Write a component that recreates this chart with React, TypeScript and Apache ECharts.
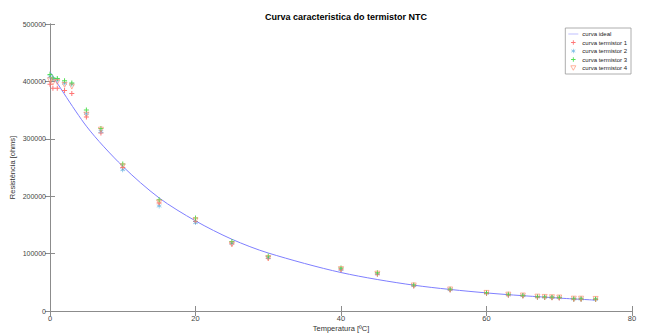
import React, { useEffect, useRef } from "react";
import * as echarts from "echarts";

const temps = [0, 0.4, 1, 2, 3, 5, 7, 10, 15, 20, 25, 30, 40, 45, 50, 55, 60, 63, 65, 67, 68, 69, 70, 72, 73, 75];
const term1 = [395000, 388000, 388000, 384000, 379000, 338000, 310000, 250000, 188000, 156000, 117000, 92000, 72000, 64000, 43500, 36500, 30500, 27500, 26000, 24000, 23500, 23000, 22500, 20500, 20500, 20000];
const term2 = [408000, 404000, 403000, 397000, 395000, 344000, 313000, 246000, 183000, 154000, 118000, 93000, 72500, 64500, 44000, 37000, 31000, 28000, 26500, 24500, 24000, 23500, 23000, 21000, 21000, 20500];
const term3 = [412000, 406000, 405000, 401000, 397000, 350000, 318000, 256000, 194000, 162000, 121000, 96000, 75000, 66500, 45500, 38000, 32000, 29000, 27000, 25000, 24500, 24000, 23500, 21500, 21500, 21000];
const term4 = [402000, 398000, 399000, 394000, 391000, 342000, 316000, 252000, 189000, 158000, 116000, 92000, 73000, 65000, 44500, 37500, 31500, 28500, 27000, 25000, 24500, 24000, 23500, 21500, 21500, 21000];

const idealTemps = [0, 5, 10, 15, 20, 25, 30, 40, 50, 60, 70, 75];
const idealValues = [417000, 322000, 252000, 197000, 157000, 125000, 101000, 67000, 45000, 31500, 22500, 19000];

const seriesNames = ["curva ideal", "curva termistor 1", "curva termistor 2", "curva termistor 3", "curva termistor 4"];
const yMax = 500000;

const FONT = "'Liberation Sans', Arial, Helvetica, sans-serif";
const PLUS = "path://M4,0h2v4h4v2h-4v4h-2v-4h-4v-2h4z";
const STAR = "path://M4.4,0h1.2v3.9l3.4,-2l0.6,1l-3.4,2.1l3.4,2l-0.6,1l-3.4,-2v3.9h-1.2v-3.9l-3.4,2l-0.6,-1l3.4,-2l-3.4,-2.1l0.6,-1l3.4,2z";
const TRI = "path://M0,0L10,0L5,9Z";
const LINE_ICON = "path://M0,0h20v1h-20z";

const C_IDEAL = "#7f7fff";
const C1 = "#ff6666";
const C2 = "#55aadd";
const C3 = "#44dd44";
const C4 = "#ff8866";

const pairs = (xs: number[], ys: number[]) => xs.map((x, i) => [x, ys[i]]);

export default function App() {
  const ref = useRef<HTMLDivElement>(null);
  useEffect(() => {
    if (!ref.current) return;
    const chart = echarts.init(ref.current, null, { renderer: "svg" });
    const axisCommon = {
      axisLine: { show: true, lineStyle: { color: "#8c8c8c", width: 1 } },
      axisTick: { show: true, inside: true, length: 5, lineStyle: { color: "#8c8c8c" } },
      splitLine: { show: false },
    };
    chart.setOption({
      animation: false,
      backgroundColor: "#ffffff",
      textStyle: { fontFamily: FONT },
      title: {
        text: "Curva caracteristica do termistor NTC",
        left: 341,
        textAlign: "center",
        top: 7,
        textStyle: { fontSize: 9, fontWeight: "bold", color: "#000", fontFamily: FONT },
      },
      grid: { left: 50, right: 18, top: 24, bottom: 22, containLabel: false, outerBoundsMode: "none" },
      legend: {
        orient: "vertical",
        right: 19,
        top: 28,
        data: [
          { name: seriesNames[0], icon: LINE_ICON, itemStyle: { color: C_IDEAL } },
          { name: seriesNames[1], icon: PLUS, itemStyle: { color: C1 } },
          { name: seriesNames[2], icon: STAR, itemStyle: { color: C2 } },
          { name: seriesNames[3], icon: PLUS, itemStyle: { color: C3 } },
          { name: seriesNames[4], icon: TRI, itemStyle: { color: "transparent", borderColor: C4, borderWidth: 0.8 } },
        ],
        itemWidth: 10,
        itemHeight: 4.5,
        itemGap: 2.5,
        padding: [3, 4, 3, 3],
        borderColor: "#999",
        borderWidth: 0.8,
        backgroundColor: "#fff",
        textStyle: { fontSize: 6, lineHeight: 6, color: "#222", fontFamily: FONT, padding: [0, 0, 0, -1] },
      },
      xAxis: [
        {
          type: "value",
          min: 0,
          max: 80,
          interval: 20,
          name: "Temperatura [ºC]",
          nameLocation: "middle",
          nameGap: 13,
          nameMoveOverlap: false,
          nameTextStyle: { fontSize: 7.5, color: "#333" },
          axisLabel: { fontSize: 7.5, color: "#444", margin: 3 },
          ...axisCommon,
        },
        {
          type: "value",
          position: "top",
          min: 0,
          max: 80,
          interval: 20,
          axisLabel: { show: false },
          ...axisCommon,
        },
      ],
      yAxis: [
        {
          type: "value",
          min: 0,
          max: yMax,
          interval: 100000,
          name: "Resistência [ohms]",
          nameLocation: "middle",
          nameGap: 34,
          nameMoveOverlap: false,
          nameTextStyle: { fontSize: 7.5, color: "#333" },
          axisLabel: { fontSize: 7, color: "#444", margin: 4, formatter: (v: number) => String(v) },
          ...axisCommon,
        },
        {
          type: "value",
          position: "right",
          min: 0,
          max: yMax,
          interval: 100000,
          axisLabel: { show: false },
          ...axisCommon,
        },
      ],
      series: [
        {
          name: seriesNames[0],
          type: "line",
          data: pairs(idealTemps, idealValues),
          symbol: "none",
          smooth: 0.3,
          lineStyle: { color: C_IDEAL, width: 1 },
          itemStyle: { color: C_IDEAL },
          z: 2,
        },
        {
          name: seriesNames[1],
          type: "scatter",
          data: pairs(temps, term1),
          symbol: PLUS,
          symbolSize: 5,
          itemStyle: { color: C1, opacity: 0.9 },
          z: 3,
        },
        {
          name: seriesNames[2],
          type: "scatter",
          data: pairs(temps, term2),
          symbol: STAR,
          symbolSize: 5,
          itemStyle: { color: C2, opacity: 0.9 },
          z: 4,
        },
        {
          name: seriesNames[3],
          type: "scatter",
          data: pairs(temps, term3),
          symbol: PLUS,
          symbolSize: 5,
          itemStyle: { color: C3, opacity: 0.9 },
          z: 5,
        },
        {
          name: seriesNames[4],
          type: "scatter",
          data: pairs(temps, term4),
          symbol: TRI,
          symbolSize: 5,
          itemStyle: { color: "transparent", borderColor: C4, borderWidth: 0.8 },
          z: 6,
        },
      ],
    });
    return () => chart.dispose();
  }, []);
  return <div ref={ref} style={{ width: 650, height: 333, position: "absolute", left: 0, top: 0 }} />;
}
